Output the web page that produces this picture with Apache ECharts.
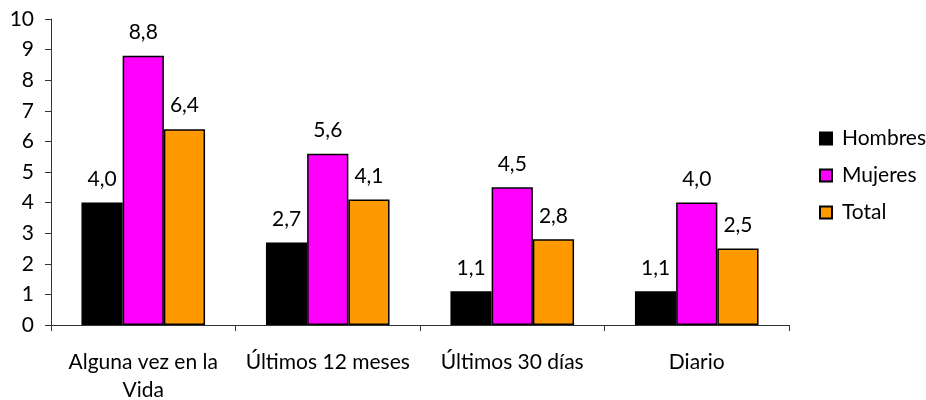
<!DOCTYPE html>
<html>
<head>
<meta charset="utf-8">
<script src="https://cdn.jsdelivr.net/npm/echarts@6/dist/echarts.min.js"></script>
<style>
  html, body { margin: 0; padding: 0; background: #fff; }
  #chart { width: 926px; height: 400px; }
</style>
</head>
<body>
<div id="chart"></div>
<script>
// Prevalence by period of consumption, split by sex
const categories = ['Alguna vez en la\nVida', 'Últimos 12 meses', 'Últimos 30 días', 'Diario'];
const hombres = [4.0, 2.7, 1.1, 1.1];
const mujeres = [8.8, 5.6, 4.5, 4.0];
const total = [6.4, 4.1, 2.8, 2.5];
const yTicks = [0, 1, 2, 3, 4, 5, 6, 7, 8, 9, 10];

const FONT = 'Lato';
const FS = 21;
const AXIS_COLOR = '#333333';

const fmt = v => Number(v).toFixed(1).replace('.', ',');

function barSeries(name, data, color) {
  return {
    name: name,
    type: 'bar',
    data: data,
    barGap: '0%',
    barCategoryGap: '33%',
    itemStyle: { color: color, borderColor: '#000', borderWidth: 1.5 },
    label: {
      show: true,
      position: 'top',
      distance: 13,
      fontFamily: FONT,
      fontSize: FS,
      color: '#000',
      formatter: p => fmt(p.value)
    }
  };
}

const chart = echarts.init(document.getElementById('chart'), null, { renderer: 'canvas' });
chart.setOption({
  animation: false,
  backgroundColor: '#fff',
  textStyle: { fontFamily: FONT },
  grid: { left: 51, right: 137, top: 19, bottom: 75, containLabel: false, outerBoundsMode: 'none' },
  legend: {
    orient: 'vertical',
    left: 819,
    top: 128,
    padding: 0,
    itemWidth: 12,
    itemHeight: 12,
    itemGap: 16,
    icon: 'rect',
    textStyle: { fontFamily: FONT, fontSize: FS, color: '#000', lineHeight: 16, padding: [0, 0, 0, 5] },
    data: ['Hombres', 'Mujeres', 'Total']
  },
  xAxis: {
    type: 'category',
    data: categories,
    axisLine: { lineStyle: { color: AXIS_COLOR, width: 1 } },
    axisTick: { show: true, length: 6, lineStyle: { color: AXIS_COLOR } },
    axisLabel: {
      fontFamily: FONT,
      fontSize: FS,
      color: '#000',
      lineHeight: 28,
      margin: 23,
      interval: 0
    }
  },
  yAxis: {
    type: 'value',
    min: yTicks[0],
    max: yTicks[yTicks.length - 1],
    interval: 1,
    splitLine: { show: false },
    axisLine: { show: true, lineStyle: { color: AXIS_COLOR, width: 1 } },
    axisTick: { show: true, length: 6, lineStyle: { color: AXIS_COLOR } },
    axisLabel: { fontFamily: FONT, fontSize: FS, color: '#000', margin: 17 }
  },
  series: [
    barSeries('Hombres', hombres, '#000000'),
    barSeries('Mujeres', mujeres, '#FF00FF'),
    barSeries('Total', total, '#FF9900')
  ]
});
</script>
</body>
</html>
